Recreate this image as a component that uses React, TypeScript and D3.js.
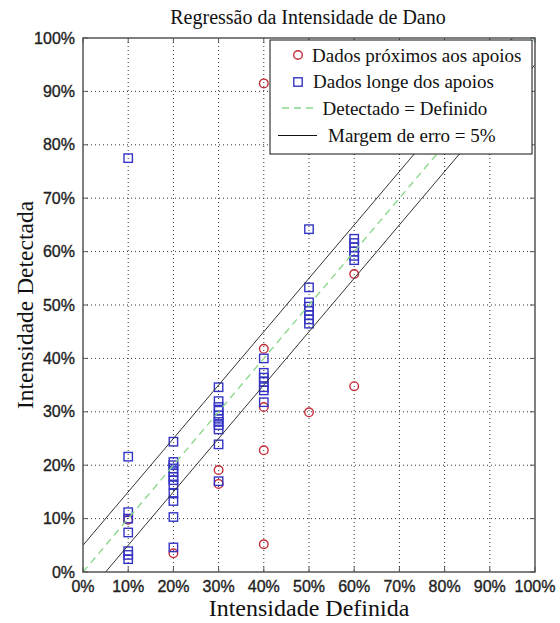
import React from "react";
import * as d3 from "d3";

// Tick values (fractions) and their labels
const tickValues = [0, 0.1, 0.2, 0.3, 0.4, 0.5, 0.6, 0.7, 0.8, 0.9, 1];
const tickLabels = ["0%", "10%", "20%", "30%", "40%", "50%", "60%", "70%", "80%", "90%", "100%"];

// Measurements close to the supports (red circles): defined vs detected intensity
const nearDefined = [0.1, 0.2, 0.3, 0.3, 0.4, 0.4, 0.4, 0.4, 0.4, 0.5, 0.6, 0.6];
const nearDetected = [0.098, 0.035, 0.191, 0.165, 0.915, 0.418, 0.309, 0.228, 0.052, 0.299, 0.558, 0.348];

// Measurements far from the supports (blue squares)
const farDefined = [
  0.1, 0.1, 0.1, 0.1, 0.1, 0.1, 0.1, 0.1,
  0.2, 0.2, 0.2, 0.2, 0.2, 0.2, 0.2, 0.2, 0.2, 0.2, 0.2, 0.2,
  0.3, 0.3, 0.3, 0.3, 0.3, 0.3, 0.3, 0.3, 0.3, 0.3, 0.3,
  0.4, 0.4, 0.4, 0.4, 0.4, 0.4, 0.4,
  0.5, 0.5, 0.5, 0.5, 0.5, 0.5, 0.5, 0.5,
  0.6, 0.6, 0.6, 0.6, 0.6, 0.6,
];
const farDetected = [
  0.775, 0.216, 0.112, 0.1, 0.074, 0.039, 0.032, 0.024,
  0.244, 0.206, 0.2, 0.194, 0.187, 0.178, 0.172, 0.164, 0.147, 0.133, 0.103, 0.046,
  0.346, 0.32, 0.309, 0.302, 0.293, 0.287, 0.281, 0.275, 0.267, 0.239, 0.17,
  0.4, 0.373, 0.364, 0.356, 0.346, 0.34, 0.318,
  0.642, 0.533, 0.505, 0.497, 0.489, 0.481, 0.473, 0.465,
  0.624, 0.616, 0.608, 0.6, 0.592, 0.584,
];

// Reference line and error margin
const identityLine: [number, number][] = [[0, 0], [1, 1]];
const errorMargin = 0.05;

const legendLabels = [
  "Dados próximos aos apoios",
  "Dados longe dos apoios",
  "Detectado = Definido",
  "Margem de erro = 5%",
];

const SERIF = "'Liberation Serif', 'Times New Roman', serif";
const SANS = "'Liberation Sans', Arial, sans-serif";
const RED = "#c42c38";
const BLUE = "#3434c4";
const GREEN = "#86d686";

export default function App() {
  const left = 83, right = 535, top = 38, bottom = 572;
  const x = d3.scaleLinear().domain([0, 1]).range([left, right]);
  const y = d3.scaleLinear().domain([0, 1]).range([bottom, top]);
  const line = d3.line<[number, number]>().x((d) => x(d[0])).y((d) => y(d[1]));

  const upper: [number, number][] = identityLine.map(([a, b]) => [a, b + errorMargin]);
  const lower: [number, number][] = identityLine.map(([a, b]) => [a, b - errorMargin]);
  const tickLen = 5;
  const sq = 8.4;

  return (
    <div style={{ position: "absolute", left: 0, top: 0 }}>
      <svg width={560} height={623} style={{ display: "block", background: "#fff" }}>
        <defs>
          <clipPath id="plotClip">
            <rect x={left} y={top} width={right - left} height={bottom - top} />
          </clipPath>
        </defs>
        <rect x={0} y={0} width={560} height={623} fill="#fff" />

        {/* dotted grid */}
        <g stroke="#333" strokeWidth={1} strokeDasharray="1 3">
          {tickValues.slice(1, -1).map((t) => (
            <line key={"gx" + t} x1={x(t)} x2={x(t)} y1={top} y2={bottom} />
          ))}
          {tickValues.slice(1, -1).map((t) => (
            <line key={"gy" + t} x1={left} x2={right} y1={y(t)} y2={y(t)} />
          ))}
        </g>

        {/* data markers */}
        <g fill="none" stroke={RED} strokeWidth={1.4}>
          {nearDefined.map((d, i) => (
            <circle key={"n" + i} cx={x(d)} cy={y(nearDetected[i])} r={4.3} />
          ))}
        </g>
        <g fill="none" stroke={BLUE} strokeWidth={1.4}>
          {farDefined.map((d, i) => (
            <rect key={"f" + i} x={x(d) - sq / 2} y={y(farDetected[i]) - sq / 2} width={sq} height={sq} />
          ))}
        </g>

        {/* reference lines */}
        <g clipPath="url(#plotClip)" fill="none">
          <path d={line(identityLine) || ""} stroke={GREEN} strokeWidth={1.3} strokeDasharray="7 5" />
          <path d={line(upper) || ""} stroke="#333" strokeWidth={1} />
          <path d={line(lower) || ""} stroke="#333" strokeWidth={1} />
        </g>

        {/* axes box and ticks */}
        <rect x={left} y={top} width={right - left} height={bottom - top} fill="none" stroke="#555" strokeWidth={1.5} />
        <g stroke="#555" strokeWidth={1}>
          {tickValues.map((t) => (
            <g key={"t" + t}>
              <line x1={x(t)} x2={x(t)} y1={bottom} y2={bottom - tickLen} />
              <line x1={x(t)} x2={x(t)} y1={top} y2={top + tickLen} />
              <line x1={left} x2={left + tickLen} y1={y(t)} y2={y(t)} />
              <line x1={right} x2={right - tickLen} y1={y(t)} y2={y(t)} />
            </g>
          ))}
        </g>

        {/* tick labels */}
        <g fontFamily={SANS} fontSize={16} fill="#222" stroke="#222" strokeWidth={0.35}>
          {tickValues.map((t, i) => (
            <text key={"xl" + t} x={x(t)} y={bottom + 20} textAnchor="middle">
              {tickLabels[i]}
            </text>
          ))}
          {tickValues.map((t, i) => (
            <text key={"yl" + t} x={left - 8} y={y(t) + 5.5} textAnchor="end">
              {tickLabels[i]}
            </text>
          ))}
        </g>

        {/* title and axis titles */}
        <text x={308} y={24} textAnchor="middle" fontFamily={SERIF} fontSize={20} fill="#111">
          Regressão da Intensidade de Dano
        </text>
        <text x={309} y={616} textAnchor="middle" fontFamily={SERIF} fontSize={24} fill="#111">
          Intensidade Definida
        </text>
        <text
          transform={`translate(33, ${(top + bottom) / 2}) rotate(-90)`}
          textAnchor="middle"
          fontFamily={SERIF}
          fontSize={23.5}
          fill="#111"
        >
          Intensidade Detectada
        </text>

        {/* legend */}
        <g>
          <rect x={270} y={40} width={262} height={114} fill="#fff" stroke="#111" strokeWidth={1} />
          <circle cx={298} cy={55} r={4.3} fill="none" stroke={RED} strokeWidth={1.4} />
          <rect x={298 - sq / 2} y={82 - sq / 2} width={sq} height={sq} fill="none" stroke={BLUE} strokeWidth={1.4} />
          <line x1={282} x2={317} y1={108} y2={108} stroke={GREEN} strokeWidth={1.3} strokeDasharray="7 5" />
          <line x1={278} x2={317} y1={135.5} y2={135.5} stroke="#111" strokeWidth={1} />
          <g fontFamily={SERIF} fontSize={19} fill="#111">
            <text x={312} y={61.5}>{legendLabels[0]}</text>
            <text x={313} y={88}>{legendLabels[1]}</text>
            <text x={322.5} y={114.5}>{legendLabels[2]}</text>
            <text x={328} y={141.5}>{legendLabels[3]}</text>
          </g>
        </g>
      </svg>
    </div>
  );
}
